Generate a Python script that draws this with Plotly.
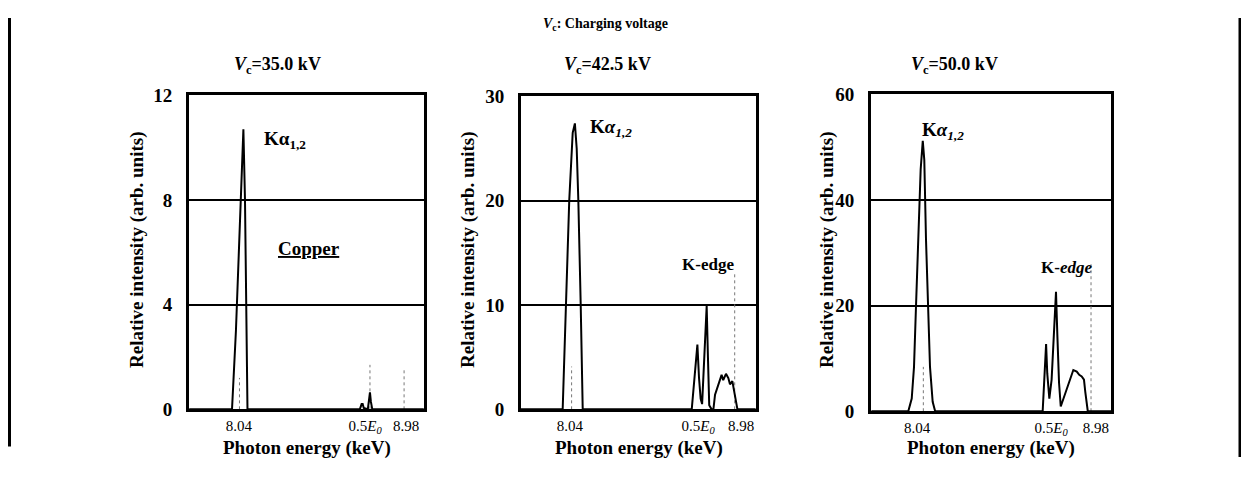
import plotly.graph_objects as go

# figure is placed by the page with an 8px body margin; size it to fit the window
OX, OY = 8, 8
W, H = 1249 - 2 * OX, 477 - 2 * OY
FONT = "Liberation Serif"

# ---------------- data ----------------
panel_titles = ["<i>V</i><sub>c</sub>=35.0 kV", "<i>V</i><sub>c</sub>=42.5 kV", "<i>V</i><sub>c</sub>=50.0 kV"]

e35 = [7.76, 8.001, 8.023, 8.046, 8.057, 8.065, 8.074, 8.082, 8.088, 8.72, 8.73, 8.736, 8.742,
       8.765, 8.772, 8.777, 8.782, 8.79, 9.08]
i35 = [0, 0, 3, 7.5, 9.5, 10.7, 8, 2, 0, 0, 0.2, 0.2, 0.05, 0, 0.3, 0.65, 0.3, 0, 0]

e42 = [7.77, 8.000, 8.018, 8.036, 8.055, 8.067, 8.077, 8.086, 8.099, 8.110, 8.709, 8.724, 8.740,
       8.749, 8.758, 8.766, 8.776, 8.791, 8.798, 8.805, 8.818, 8.828, 8.837, 8.855, 8.873, 8.882,
       8.897, 8.910, 8.919, 8.932, 8.947, 8.960, 9.06]
i42 = [0, 0, 10, 20, 26.5, 27.4, 25, 20, 10, 0, 0, 3, 6.2,
       3, 1.0, 0.5, 5, 9.9, 5, 0.4, 0, 0, 1.4, 2.4, 3.3, 2.8,
       3.4, 3.0, 2.4, 2.7, 1.4, 0, 0]

e50 = [7.80, 7.994, 8.012, 8.024, 8.035, 8.047, 8.059, 8.070, 8.078, 8.087, 8.096, 8.108, 8.122,
       8.135, 8.700, 8.711, 8.718, 8.724, 8.735, 8.747, 8.760, 8.770, 8.777, 8.786, 8.795, 8.809,
       8.826, 8.844, 8.861, 8.879, 8.892, 8.905, 8.917, 8.924, 8.937, 9.06]
i50 = [0, 0, 2.4, 8.4, 20.5, 32.5, 45.8, 51.2, 47.6, 32.5, 20.5, 8.4, 1.8,
       0, 0, 6.6, 12.7, 7.2, 2.4, 6.0, 14.5, 22.6, 14.5, 5.4, 0.9, 2.4,
       4.2, 6.3, 7.8, 7.5, 6.9, 6.6, 6.0, 3.6, 0, 0]

# dotted reference markers (energy, height)
mark35_x = [8.043, 8.777, 8.969]
mark35_h = [1.2, 1.7, 1.6]
mark42_x = [8.049, 8.945]
mark42_h = [4.1, 13.0]
mark50_x = [8.073, 8.954]
mark50_h = [8.4, 28.0]

y_ticks = [[0, 4, 8, 12], [0, 10, 20, 30], [0, 20, 40, 60]]
x_tickvals = [[8.04, 8.75, 8.98], [8.04, 8.744, 8.98], [8.04, 8.744, 8.98]]
x_ticktext = ["8.04", "0.5<i>E</i><sub><i>0</i></sub>", "8.98"]
x_ranges = [[7.759, 9.081], [7.771, 9.062], [7.798, 9.059]]

# ---------------- layout geometry (window pixels) ----------------
x_px = [(189, 424), (521, 756), (871, 1111)]
y_px = [(89, 418), (90, 418), (88, 420)]


def fx(px):
    return (px - OX) / W


def fy(py):
    return 1 - (py - OY) / H


spectra = [(e35, i35), (e42, i42), (e50, i50)]
marks = [(mark35_x, mark35_h), (mark42_x, mark42_h), (mark50_x, mark50_h)]

fig = go.Figure()

for k in range(3):
    xa = "x" if k == 0 else f"x{k+1}"
    ya = "y" if k == 0 else f"y{k+1}"
    mx, mh = marks[k]
    for xv, hv in zip(mx, mh):
        fig.add_trace(go.Scatter(x=[xv, xv], y=[0, hv], mode="lines",
                                 line=dict(color="#777777", width=1, dash="dot"),
                                 xaxis=xa, yaxis=ya, showlegend=False, hoverinfo="skip"))
    ex, iy = spectra[k]
    fig.add_trace(go.Scatter(x=ex, y=iy, mode="lines",
                             line=dict(color="black", width=2),
                             xaxis=xa, yaxis=ya, showlegend=False))

layout = dict(width=W, height=H, margin=dict(l=0, r=0, t=0, b=0),
              paper_bgcolor="white", plot_bgcolor="white",
              font=dict(family=FONT, color="black"))

for k in range(3):
    xs = "xaxis" if k == 0 else f"xaxis{k+1}"
    ys = "yaxis" if k == 0 else f"yaxis{k+1}"
    anchor_x = "y" if k == 0 else f"y{k+1}"
    anchor_y = "x" if k == 0 else f"x{k+1}"
    layout[xs] = dict(domain=[fx(x_px[k][0]), fx(x_px[k][1])], anchor=anchor_x,
                      range=x_ranges[k], showgrid=False, zeroline=False,
                      showline=True, mirror=True, linecolor="black", linewidth=3,
                      tickmode="array", tickvals=x_tickvals[k], ticktext=x_ticktext,
                      ticks="", ticklabelstandoff=1,
                      tickfont=dict(family=FONT, size=15, color="black"))
    layout[ys] = dict(domain=[fy(y_px[k][1]), fy(y_px[k][0])], anchor=anchor_y,
                      range=[0, y_ticks[k][-1]], showgrid=True, gridcolor="black", gridwidth=1.5,
                      zeroline=False, showline=True, mirror=True, linecolor="black", linewidth=3,
                      tickmode="array", tickvals=y_ticks[k],
                      ticktext=[f"<b>{v}</b>" for v in y_ticks[k]],
                      ticks="", ticklabelstandoff=10,
                      tickfont=dict(family=FONT, size=19, color="black"))

fig.update_layout(**layout)


def ann(text, px, py, size=16, angle=0):
    fig.add_annotation(text=text, x=fx(px), y=fy(py), xref="paper", yref="paper",
                       showarrow=False, xanchor="center", yanchor="middle",
                       textangle=angle, font=dict(family=FONT, size=size, color="black"))


ann("<b><i>V</i><sub>c</sub>: Charging voltage</b>", 605, 15, size=14)
title_px = [277, 607, 954]
for k in range(3):
    ann(f"<b>{panel_titles[k]}</b>", title_px[k], 58, size=18)

ylab_px = [137, 468, 827]
for k in range(3):
    ann("<b>Relative intensity (arb. units)</b>", ylab_px[k], 251, size=19, angle=-90)

xlab_px = [307, 639, 991]
for k in range(3):
    ann("<b>Photon energy (keV)</b>", xlab_px[k], 458, size=19)

ann("<b>Kα<sub>1,2</sub></b>", 285, 136, size=19)
ann("<b>K<i>α</i><sub><i>1,2</i></sub></b>", 611, 123, size=19)
ann("<b>K<i>α</i><sub><i>1,2</i></sub></b>", 943, 126, size=19)
ann("<b><u>Copper</u></b>", 309, 249, size=19)
ann("<b>K-edge</b>", 708, 266, size=17)
ann("<b>K-<i>edge</i></b>", 1066, 269, size=17)

# outer frame side lines
fig.add_shape(type="line", xref="paper", yref="paper", x0=fx(9.5), x1=fx(9.5), y0=1, y1=fy(457),
              line=dict(color="black", width=3))
fig.add_shape(type="line", xref="paper", yref="paper", x0=fx(1240), x1=fx(1240), y0=1, y1=fy(468),
              line=dict(color="black", width=3))

fig.write_html("out.html")
